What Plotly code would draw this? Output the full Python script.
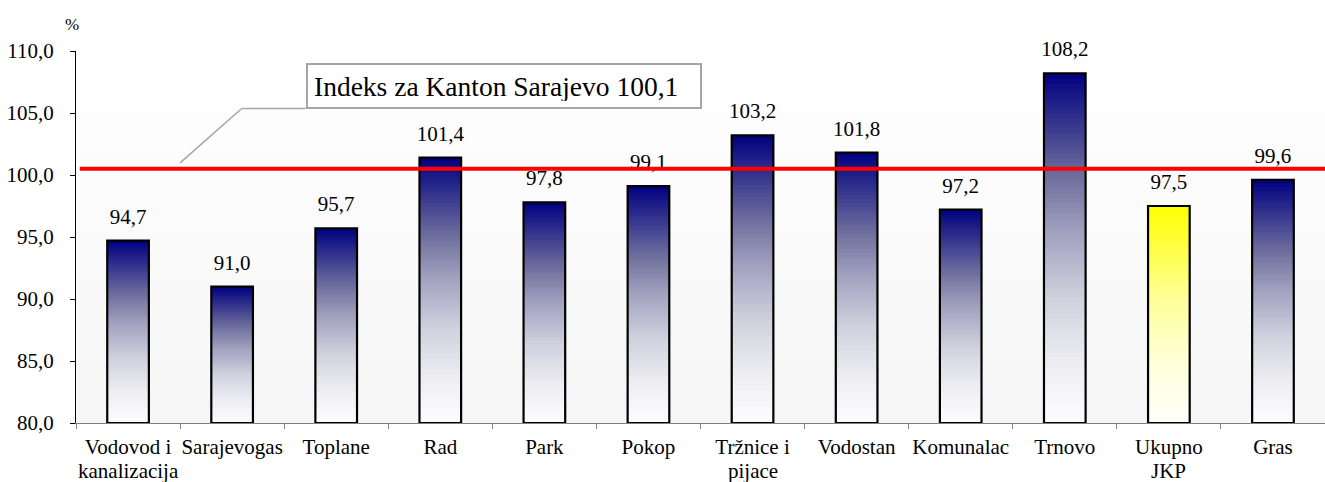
import plotly.graph_objects as go

# ---------------- data ----------------
categories = ["Vodovod i kanalizacija", "Sarajevogas", "Toplane", "Rad", "Park", "Pokop",
              "Tržnice i pijace", "Vodostan", "Komunalac", "Trnovo", "Ukupno JKP", "Gras"]
tick_line1 = ["Vodovod i", "Sarajevogas", "Toplane", "Rad", "Park", "Pokop",
              "Tržnice i", "Vodostan", "Komunalac", "Trnovo", "Ukupno", "Gras"]
tick_line2 = ["kanalizacija", "", "", "", "", "", "pijace", "", "", "", "JKP", ""]
values = [94.7, 91.0, 95.7, 101.4, 97.8, 99.1, 103.2, 101.8, 97.2, 108.2, 97.5, 99.6]
value_labels = ["94,7", "91,0", "95,7", "101,4", "97,8", "99,1", "103,2", "101,8", "97,2", "108,2", "97,5", "99,6"]
highlight = ["Ukupno JKP"]
kanton_text = "Indeks za Kanton Sarajevo 100,1"
kanton_line_level = 100.5   # position of the red reference line as drawn
y_min, y_max, y_step = 80, 110, 5

# ---------------- styling helpers ----------------
FONT = "Liberation Serif"
BLUE_STOPS = [(0.0, (0, 0, 128)), (0.3, (112, 112, 158)), (0.45, (160, 160, 191)),
              (0.65, (210, 210, 223)), (0.85, (240, 240, 244)), (1.0, (253, 253, 254))]
YELLOW_STOPS = [(0.0, (255, 255, 0)), (0.43, (255, 255, 153)), (0.7, (255, 255, 213)),
                (1.0, (255, 255, 252))]


def interp(stops, t):
    for (t0, c0), (t1, c1) in zip(stops[:-1], stops[1:]):
        if t <= t1:
            f = (t - t0) / (t1 - t0) if t1 > t0 else 0
            return "rgb(%d,%d,%d)" % tuple(round(a + (b - a) * f) for a, b in zip(c0, c1))
    return "rgb(%d,%d,%d)" % stops[-1][1]


fig = go.Figure()

heights = [v - y_min for v in values]
N = 70
for k in range(N - 1, -1, -1):
    t = 1 - (k + 0.5) / N
    colors = [interp(YELLOW_STOPS if c in highlight else BLUE_STOPS, t) for c in categories]
    fig.add_trace(go.Bar(
        x=categories, y=[h * (k + 1) / N for h in heights], base=[y_min] * len(values),
        marker=dict(color=colors, line=dict(width=0)),
        hoverinfo="skip", showlegend=False))

# outline
fig.add_trace(go.Bar(
    x=categories, y=heights, base=[y_min] * len(values),
    marker=dict(color="rgba(0,0,0,0)", line=dict(color="black", width=2.2)),
    hoverinfo="skip", showlegend=False))

# data labels
fig.add_trace(go.Scatter(
    x=categories, y=values, mode="markers+text", text=value_labels,
    textposition="top center", marker=dict(size=17, opacity=0), cliponaxis=False,
    textfont=dict(family=FONT, size=21, color="black"),
    hoverinfo="skip", showlegend=False))

# plot background gradient
S = 30
for i in range(S):
    g = round(246 + (255 - 246) * (i + 0.5) / S)
    fig.add_shape(type="rect", xref="x domain", yref="y domain",
                  x0=0, x1=1, y0=i / S, y1=min(1, (i + 1.3) / S),
                  fillcolor="rgb(%d,%d,%d)" % (g, g, g), line=dict(width=0), layer="below")

# red reference line
fig.add_shape(type="line", xref="paper", yref="y", x0=0.003, x1=1,
              y0=kanton_line_level, y1=kanton_line_level,
              line=dict(color="#ff0000", width=4), layer="above")

# leader line for the callout
fig.add_shape(type="line", xref="x", yref="y", x0=0.5, y0=100.98, x1=1.092, y1=105.36,
              line=dict(color="#a6a6a6", width=1.5), layer="above")
fig.add_shape(type="line", xref="x", yref="y", x0=1.092, y0=105.36, x1=1.707, y1=105.36,
              line=dict(color="#a6a6a6", width=1.5), layer="above")

fig.add_annotation(x=1.707, y=105.36, xref="x", yref="y", xanchor="left", yanchor="bottom",
                   text=kanton_text, showarrow=False, align="left", width=380, height=30,
                   borderpad=6, borderwidth=2, bordercolor="#a6a6a6", bgcolor="white",
                   font=dict(family=FONT, size=27.5, color="black"))

# second lines of x labels
for i, t2 in enumerate(tick_line2):
    if t2:
        fig.add_annotation(x=i, y=0, xref="x", yref="paper", yanchor="top", yshift=-34,
                           text=t2, showarrow=False,
                           font=dict(family=FONT, size=21, color="black"))

# % unit label
fig.add_annotation(xref="paper", yref="paper", x=(71.5 - 76) / 1249, y=1 + (51 - 24) / 372.6,
                   xanchor="center", yanchor="middle", text="%", showarrow=False,
                   font=dict(family=FONT, size=17, color="black"))

fig.update_layout(
    width=1325, height=482,
    margin=dict(l=76, r=0, t=51, b=59, pad=0, autoexpand=False),
    barmode="overlay", bargap=0.6,
    paper_bgcolor="white", plot_bgcolor="white",
    separators=", ",
    font=dict(family=FONT, size=21, color="black"),
    xaxis=dict(type="category", range=[-0.5, len(categories) - 0.5],
               tickvals=categories, ticktext=tick_line1, tickangle=0, automargin=False,
               showline=True, linecolor="#808080", linewidth=1,
               ticks="outside", tickson="boundaries", ticklen=5, tickcolor="#808080",
               ticklabelstandoff=5,
               tickfont=dict(family=FONT, size=21, color="black"), showgrid=False),
    yaxis=dict(range=[y_min, y_max], dtick=y_step, tick0=y_min, tickformat=".1f",
               automargin=False,
               showline=True, linecolor="black", linewidth=1,
               ticks="outside", ticklen=5, tickcolor="black",
               ticklabelstandoff=12,
               tickfont=dict(family=FONT, size=21, color="black"),
               showgrid=False, zeroline=False),
)

fig.write_html("out.html", config={"displayModeBar": False},
               post_script="document.body.style.margin='0';document.body.style.overflow='hidden';")
